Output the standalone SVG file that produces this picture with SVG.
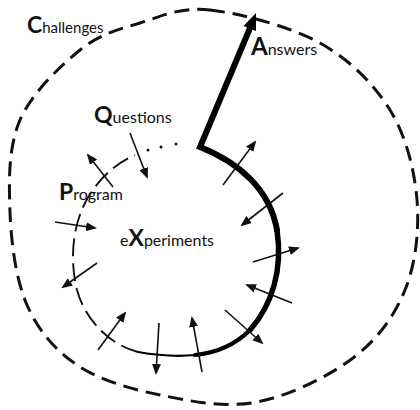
<svg xmlns="http://www.w3.org/2000/svg" width="420" height="410" viewBox="0 0 420 410">
<style>
.lbl{font-family:Lato,"Open Sans","Liberation Sans",sans-serif;fill:#111;font-size:16px}
.big{font-weight:bold;font-size:23px}
.outer{fill:none;stroke:#111;stroke-width:3;stroke-dasharray:15 8}
.inner{fill:none;stroke:#111;stroke-width:1.9;stroke-dasharray:18 7}
.thick{fill:none;stroke:#000;stroke-linecap:round}
.arr{fill:none;stroke:#111;stroke-width:1.6;marker-end:url(#ah)}
</style>
<defs>
<marker id="ah" markerUnits="userSpaceOnUse" markerWidth="11" markerHeight="9" refX="9" refY="4.5" orient="auto">
<path d="M0,0 L11,4.5 L0,9 z" fill="#111"/>
</marker>
</defs>
<rect width="420" height="410" fill="#fff"/>
<g id="connectors">
<path class="outer" d="M210,10 C240,13.3 290,26.3 320,43 C350,59.7 373.8,83.8 390,110 C406.2,136.2 414.5,170 417,200 C419.5,230 415.7,263.7 405,290 C394.3,316.3 377.7,339.3 353,358 C328.3,376.7 289.2,395.8 257,402 C224.8,408.2 190,401.2 160,395 C130,388.8 99.2,380 77,365 C54.8,350 38.2,330.5 27,305 C15.8,279.5 11.2,242.8 10,212 C8.8,181.2 8.3,147 20,120 C31.7,93 60,66.2 80,50 C100,33.8 118.3,29.7 140,23 C161.7,16.3 180,6.7 210,10 Z"/>
<path class="inner" d="M138,352 C110,345 85,320 77,290 C70,262 72,230 84,205 C95,183 112,165 135,155"/>
<g fill="#111"><circle cx="148" cy="150" r="1.5"/><circle cx="161" cy="147" r="1.5"/><circle cx="176" cy="144" r="1.5"/></g>
<path class="thick" stroke-width="6" stroke-linejoin="miter" stroke-linecap="butt" d="M250,28 L200,147 C240,163 270,190 277,230"/>
<path class="thick" stroke-width="5.5" d="M277,230 C283,270 272,305 250,330"/>
<path class="thick" stroke-width="4.2" d="M250,330 C235,345 215,353 195,355"/>
<path class="thick" stroke-width="2.2" d="M195,355 C175,357 155,355 138,352"/>
<polygon points="256,13 256,31 243.5,26" fill="#000"/>
<line class="arr" x1="130" y1="133" x2="147" y2="177"/>
<line class="arr" x1="113" y1="187" x2="88" y2="155"/>
<line class="arr" x1="55" y1="222" x2="95" y2="228"/>
<line class="arr" x1="97" y1="263" x2="63" y2="287"/>
<line class="arr" x1="98" y1="350" x2="125" y2="313"/>
<line class="arr" x1="159" y1="323" x2="156" y2="373"/>
<line class="arr" x1="202" y1="372" x2="192" y2="318"/>
<line class="arr" x1="225" y1="310" x2="262" y2="343"/>
<line class="arr" x1="292" y1="303" x2="247" y2="285"/>
<line class="arr" x1="253" y1="262" x2="298" y2="248"/>
<line class="arr" x1="283" y1="193" x2="242" y2="225"/>
<line class="arr" x1="223" y1="185" x2="255" y2="142"/>
</g>
<g id="challenges"><text class="lbl" x="27" y="33" style="font-size:15px"><tspan class="big">C</tspan>hallenges</text></g>
<g id="answers"><text class="lbl" x="251" y="55"><tspan class="big" style="font-size:24px">A</tspan>nswers</text></g>
<g id="questions"><text class="lbl" x="94" y="123"><tspan class="big">Q</tspan>uestions</text></g>
<g id="program"><text class="lbl" x="59" y="200"><tspan class="big">P</tspan>rogram</text></g>
<g id="experiments"><text class="lbl" x="120" y="246">e<tspan class="big">X</tspan>periments</text></g>
</svg>
